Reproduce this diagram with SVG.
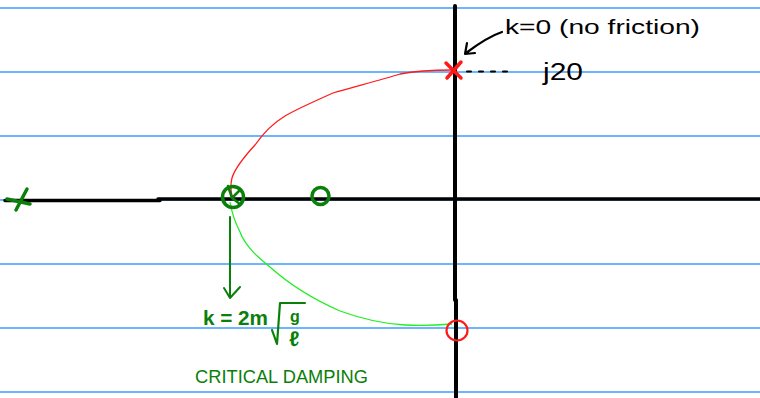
<svg xmlns="http://www.w3.org/2000/svg" width="760" height="398" viewBox="0 0 760 398">
<style>
.rule{stroke:#3d9cff;stroke-width:1.6}
.axis{stroke:#000;fill:none;stroke-linecap:round}
.dg{stroke:#0a800a;fill:none;stroke-linecap:round;stroke-linejoin:round}
.red{stroke:#ff1a1a;fill:none;stroke-linecap:round}
.hand{font-family:"Liberation Sans",Arial,sans-serif}
.ink{stroke:#000;fill:none;stroke-linecap:round;stroke-linejoin:round}
</style>
<rect width="760" height="398" fill="#fff"/>
<g id="rules">
<line class="rule" x1="0" y1="8" x2="760" y2="8"/>
<line class="rule" x1="0" y1="72" x2="760" y2="72"/>
<line class="rule" x1="0" y1="136" x2="760" y2="136"/>
<line class="rule" x1="0" y1="200" x2="760" y2="200"/>
<line class="rule" x1="0" y1="264" x2="760" y2="264"/>
<line class="rule" x1="0" y1="328" x2="760" y2="328"/>
<line class="rule" x1="0" y1="392" x2="760" y2="392"/>
</g>
<g id="axes">
<path class="axis" stroke-width="3.5" d="M5 200.5 L160 200.5 M158 199 L760 199"/>
<path class="axis" stroke-width="4" d="M455 6 L455 300 M456 300 L456 398"/>
</g>
<g id="connectors">
<path class="red" stroke-width="1.3" d="M453 70 C430 70 410 72 400 74 C380 80 350 88 333 93 C315 101 295 110 285 116 C270 125 262 135 255 145 C243 158 235 168 232 178 C230 186 231 192 232 196"/>
<path stroke="#22ee22" fill="none" stroke-width="1.3" d="M230 202 C232 215 235 222 240 232 C245 245 255 255 270 267 C290 285 315 300 340 311 C365 320 385 324 405 325 C425 326 440 325 452 324"/>
<path class="dg" stroke-width="2" d="M230 217 L230 297 M224 288 L230 298 L240 287"/>
<path class="ink" stroke-width="2.2" d="M502 32 C490 36 478 44 466 53 M467 43 L465 54 L475 53"/>
<path class="ink" stroke-width="2" stroke-dasharray="4 8" d="M467 71.5 L512 71.5"/>
</g>
<g id="pole-left">
<path class="dg" stroke-width="3.5" d="M16 210 L27 189 M7 199 L30 204"/>
</g>
<g id="double-pole">
<circle class="dg" stroke-width="3.5" cx="233" cy="197" r="10.5"/>
<path class="dg" stroke-width="2.5" d="M228 186 L232 198 M239 191 L232 198 L240 204"/>
</g>
<g id="zero">
<circle class="dg" stroke-width="3.5" cx="320.5" cy="196" r="8.5"/>
</g>
<g id="pole-top">
<path class="red" stroke-width="3.5" d="M446 63 L461 78 M461 62 L447 78"/>
</g>
<g id="zero-bottom">
<ellipse class="red" stroke-width="2.2" cx="457" cy="330.5" rx="10.5" ry="10"/>
</g>
<g id="labels">
<text class="hand" x="505" y="34" font-size="20" textLength="195" lengthAdjust="spacingAndGlyphs">k=0 (no friction)</text>
<text class="hand" x="543" y="80" font-size="23" textLength="40" lengthAdjust="spacingAndGlyphs">j20</text>
<text class="hand" x="203" y="325" font-size="21" fill="#0a800a" font-weight="bold" textLength="65" lengthAdjust="spacingAndGlyphs">k = 2m</text>
<path class="dg" stroke-width="2.2" d="M272 330 L277 344 L280 303 L305 303"/>
<text class="hand" x="290" y="322" font-size="16" fill="#0a800a" font-weight="bold">g</text>
<text class="hand" x="289" y="346" font-size="21" fill="#0a800a" font-weight="bold">ℓ</text>
<text class="hand" x="195" y="383" font-size="19" fill="#0a800a" textLength="173" lengthAdjust="spacingAndGlyphs">CRITICAL DAMPING</text>
</g>
</svg>
